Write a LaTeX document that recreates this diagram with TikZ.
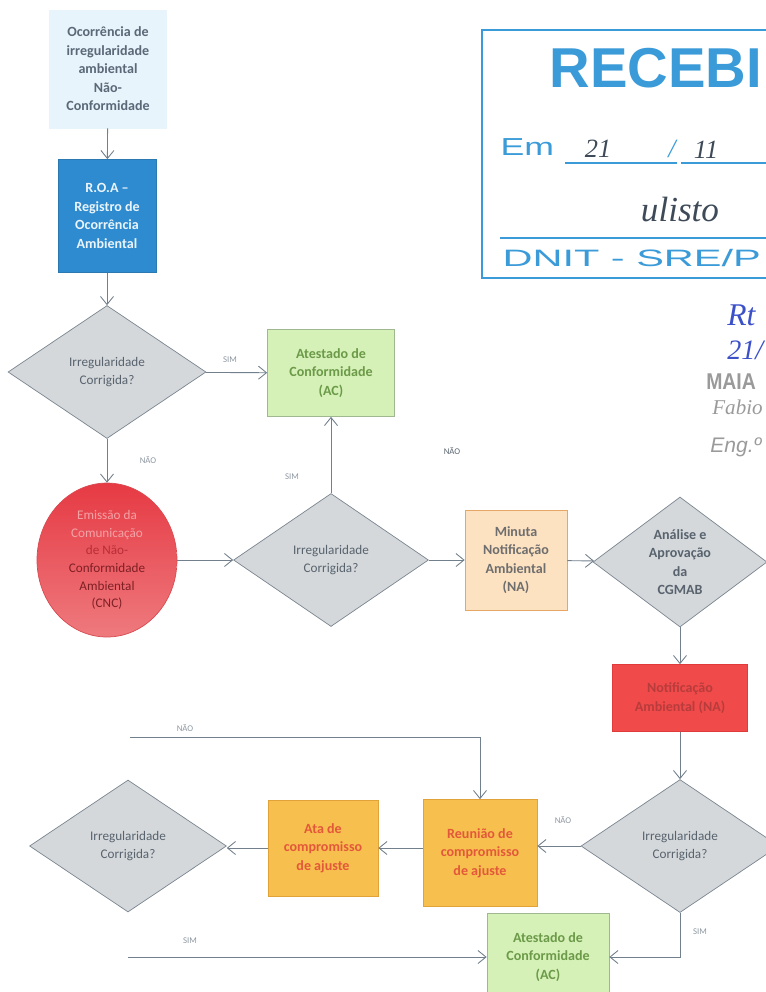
\documentclass[tikz,border=0pt]{standalone}
\usepackage{xcolor}
\usepackage{fontspec}
\setmainfont{Carlito}
\newfontfamily\stampfont{Liberation Sans}
\newfontfamily\handfont{Liberation Serif}
\usepackage{tikz}
\usetikzlibrary{shapes,arrows,positioning}
\usetikzlibrary{calc}
\usetikzlibrary{shapes, arrows.meta, positioning}
\definecolor{PaleFill}{HTML}{E8F4FB}
\definecolor{PaleText}{HTML}{5A6878}
\definecolor{RoaFill}{HTML}{2E8BCF}
\definecolor{RoaLine}{HTML}{2C78B0}
\definecolor{RoaText}{HTML}{EAF4FB}
\definecolor{DiaFill}{HTML}{D4D8DB}
\definecolor{DiaLine}{HTML}{7A8590}
\definecolor{DiaText}{HTML}{58636E}
\definecolor{AcFill}{HTML}{D6F1B8}
\definecolor{AcLine}{HTML}{A0B890}
\definecolor{AcText}{HTML}{6B9A48}
\definecolor{CncTop}{HTML}{E63A44}
\definecolor{CncMid}{HTML}{F8D0D0}
\definecolor{CncBot}{HTML}{EE7A7E}
\definecolor{CncLine}{HTML}{D84A50}
\definecolor{MinFill}{HTML}{FDE2C2}
\definecolor{MinLine}{HTML}{E6A766}
\definecolor{MinText}{HTML}{6E6E6E}
\definecolor{NaFill}{HTML}{F04A4A}
\definecolor{NaLine}{HTML}{E03A3A}
\definecolor{NaText}{HTML}{B93C3C}
\definecolor{OrgFill}{HTML}{F7C04E}
\definecolor{OrgLine}{HTML}{E1A23A}
\definecolor{OrgText}{HTML}{E3583A}
\definecolor{LineCol}{HTML}{71808C}
\definecolor{LblCol}{HTML}{8C96A0}
\definecolor{StampBlue}{HTML}{3B9BD8}
\definecolor{InkBlue}{HTML}{3C50C8}
\definecolor{InkDark}{HTML}{3E4A58}
\definecolor{GrayStamp}{HTML}{9A9A9A}
\newcommand{\Boxfont}{\fontsize{7.5}{10}\selectfont}
\newcommand{\Bigfont}{\fontsize{8}{10.5}\selectfont\bfseries}
\newcommand{\Lblfont}{\fontsize{5}{6}\selectfont}

\begin{document}
\begin{tikzpicture}
  [
    x=0.02cm, y=-0.02cm,
    >={Straight Barb[length=1.6mm, width=2.6mm]},
    Pale/.style={rectangle, draw=PaleFill, fill=PaleFill, text=PaleText, minimum width=2.34cm, minimum height=2.36cm, align=center, font=\Bigfont},
    Blue/.style={rectangle, draw=RoaLine, fill=RoaFill, text=RoaText, minimum width=1.96cm, minimum height=2.26cm, align=center, font=\Bigfont},
    Gray/.style={diamond, draw=DiaLine, fill=DiaFill, text=DiaText, inner sep=0pt, minimum width=3.96cm, minimum height=2.66cm, align=center, font=\Boxfont},
    Green/.style={rectangle, draw=AcLine, fill=AcFill, text=AcText, minimum width=2.54cm, minimum height=1.74cm, align=center, font=\Bigfont},
    Round/.style={ellipse, draw=CncLine, top color=CncTop, middle color=CncMid, bottom color=CncBot, inner sep=0pt, minimum width=2.8cm, minimum height=3.08cm, align=center, font=\Boxfont},
    Peach/.style={rectangle, draw=MinLine, fill=MinFill, text=MinText, minimum width=2.04cm, minimum height=2cm, align=center, font=\Bigfont},
    Red/.style={rectangle, draw=NaLine, fill=NaFill, text=NaText, minimum width=2.7cm, minimum height=1.34cm, align=center, font=\Bigfont},
    Yellow/.style={rectangle, draw=OrgLine, fill=OrgFill, text=OrgText, minimum height=2.14cm, align=center, font=\Bigfont},
    Lbl/.style={text=LblCol, font=\Lblfont},
    Line/.style={draw=LineCol, line width=0.5pt},
    Stamp/.style={text=StampBlue, inner sep=0pt}
  ]
  \useasboundingbox (0, 0) rectangle (766, 992);
  % Stamp
  \draw[StampBlue, line width=1pt] (482, 30) rectangle (800, 278);
  \draw[StampBlue, line width=0.8pt] (565, 163) -- (677, 163) (681, 163) -- (800, 163);
  \draw[StampBlue, line width=0.8pt] (500, 238) -- (800, 238);
  \node[Stamp, font=\stampfont\bfseries\fontsize{32}{32}\selectfont] (recebi) at(656, 68) {RECEBI};
  \node[Stamp, anchor=west, xscale=1.45, transform shape, font=\stampfont\fontsize{14}{14}\selectfont] (em) at(500, 147) {Em};
  \node[text=InkDark, font=\handfont\itshape\fontsize{15}{15}\selectfont] (dia) at(598, 149) {21};
  \node[text=StampBlue, font=\handfont\itshape\fontsize{15}{15}\selectfont] (bar) at(672, 149) {/};
  \node[text=InkDark, font=\handfont\itshape\fontsize{15}{15}\selectfont] (mes) at(706, 150) {11};
  \node[text=InkDark, font=\handfont\itshape\fontsize{20}{20}\selectfont] (visto) at(680, 210) {ulisto};
  \node[Stamp, anchor=west, xscale=1.75, transform shape, font=\stampfont\fontsize{13.5}{13.5}\selectfont] (dnit) at(502, 258) {DNIT - SRE/P};
  \node[text=InkBlue, anchor=west, inner sep=0pt, font=\handfont\itshape\fontsize{18}{18}\selectfont] (rt) at(727, 315) {Rt};
  \node[text=InkBlue, anchor=west, inner sep=0pt, font=\handfont\itshape\fontsize{16}{16}\selectfont] (data) at(727, 350) {21/};
  \node[text=GrayStamp, anchor=west, inner sep=0pt, xscale=0.85, transform shape, font=\stampfont\bfseries\fontsize{13}{13}\selectfont] (maia) at(706, 382) {MAIA};
  \node[text=GrayStamp, anchor=west, inner sep=0pt, font=\handfont\itshape\fontsize{12}{12}\selectfont] (fabio) at(712, 407) {Fabio};
  \node[text=GrayStamp, anchor=west, inner sep=0pt, font=\stampfont\itshape\fontsize{12}{12}\selectfont] (eng) at(710, 447) {Eng.º};
  % Nodes
  \node[Pale] (occ) at(108, 69) {Ocorrência de\\irregularidade\\ambiental\\Não-\\Conformidade};
  \node[Blue] (roa) at(107, 216) {R.O.A --\\Registro de\\Ocorrência\\Ambiental};
  \node[Gray] (d1) at(107, 372) {Irregularidade\\Corrigida?};
  \node[Green] (ac1) at(331, 373) {Atestado de\\Conformidade\\(AC)};
  \node[Round] (cnc) at(107, 560) {\textcolor{CncMid!70!CncTop}{Emissão da}\\\textcolor{CncMid!70!CncTop}{Comunicação}\\\textcolor{CncTop!80!black}{de Não-}\\\textcolor{CncTop!55!black}{Conformidade}\\\textcolor{CncTop!55!black}{Ambiental}\\\textcolor{CncTop!55!black}{(CNC)}};
  \node[Gray, minimum width=3.9cm] (d2) at(331, 560) {Irregularidade\\Corrigida?};
  \node[Peach] (min) at(516, 560) {Minuta\\Notificação\\Ambiental\\(NA)};
  \node[Gray, minimum width=3.48cm, minimum height=2.6cm, font=\Bigfont] (d3) at(680, 562) {Análise e\\Aprovação\\da\\CGMAB};
  \node[Red] (na) at(680, 698) {Notificação\\Ambiental (NA)};
  \node[Gray] (d4) at(680, 846) {Irregularidade\\Corrigida?};
  \node[Yellow, minimum width=2.28cm] (reu) at(480, 853) {Reunião de\\compromisso\\de ajuste};
  \node[Yellow, minimum width=2.2cm, minimum height=1.92cm] (ata) at(323, 848) {Ata de\\compromisso\\de ajuste};
  \node[Gray, minimum width=3.94cm, minimum height=2.64cm] (d5) at(128, 846) {Irregularidade\\Corrigida?};
  \node[Green, minimum width=2.44cm] (ac2) at(548, 957) {Atestado de\\Conformidade\\(AC)};
  \coordinate (nao) at(130, 737);
  \coordinate (sim) at(128, 957);
  % Labels
  \node[Lbl] (s1) at(230, 360) {SIM};
  \node[Lbl] (n1) at(148, 460) {NÃO};
  \node[Lbl] (s2) at(292, 477) {SIM};
  \node[Lbl, text=DiaText] (n2) at(452, 451) {NÃO};
  \node[Lbl] (n3) at(185, 728) {NÃO};
  \node[Lbl] (n4) at(563, 820) {NÃO};
  \node[Lbl] (s3) at(190, 941) {SIM};
  \node[Lbl] (s4) at(700, 932) {SIM};
  % Lines
  \path [->, Line] (occ) -- (roa);
  \path [->, Line] (roa) -- (d1);
  \path [->, Line] (d1) -- (ac1);
  \path [->, Line] (d1) -- (cnc);
  \path [->, Line] (cnc) -- (d2);
  \path [->, Line] (d2) -- (ac1);
  \path [->, Line] (d2) -- (min);
  \path [->, Line] (min) -- (d3);
  \path [->, Line] (d3) -- (na);
  \path [->, Line] (na) -- (d4);
  \path [->, Line] (d4.west) -- (d4.west -| reu.east);
  \path [->, Line] (reu.west |- ata.east) -- (ata.east);
  \path [->, Line] (ata.west) -- (ata.west -| d5.east);
  \path [->, Line] (nao) -| (reu.north);
  \path [->, Line] (sim) -- (ac2);
  \path [->, Line] (d4.south) |- (ac2.east);
\end{tikzpicture}
\end{document}
